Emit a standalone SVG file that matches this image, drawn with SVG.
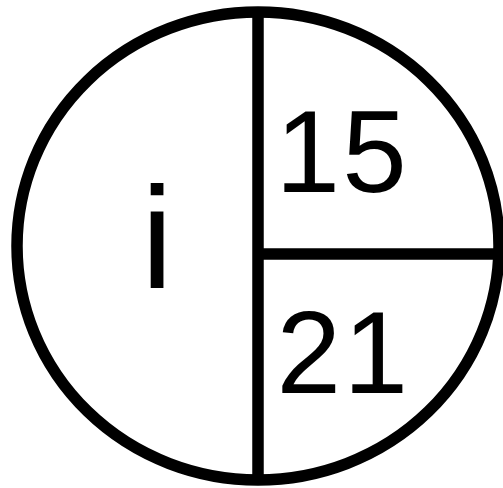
<svg xmlns="http://www.w3.org/2000/svg" width="503" height="488" viewBox="0 0 503 488">
<style>
.ln{fill:none;stroke:#000;stroke-width:11.5}
.t{font-family:"Liberation Sans",Arial,sans-serif;fill:#000}
.d{font-size:116px}
</style>
<rect width="503" height="488" fill="#fff"/>
<g id="node-circle">
<ellipse class="ln" cx="258" cy="246" rx="241" ry="234"/>
</g>
<g id="connectors">
<line class="ln" x1="258" y1="12" x2="258" y2="480"/>
<line class="ln" x1="258" y1="254" x2="499" y2="254"/>
</g>
<g id="node-i"><text class="t" x="141" y="287.7" font-size="145">i</text></g>
<g id="node-15"><text class="t d" y="192"><tspan x="275.4">1</tspan><tspan x="342.2">5</tspan></text></g>
<g id="node-21"><text class="t d" y="392.7"><tspan x="276.6">2</tspan><tspan x="343.4">1</tspan></text></g>
</svg>
